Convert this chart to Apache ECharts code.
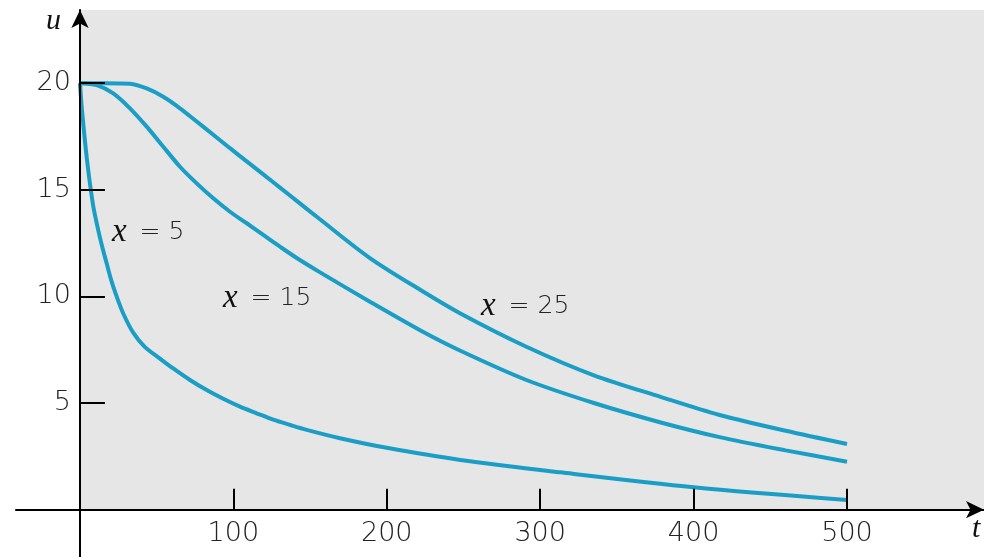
<!DOCTYPE html>
<html>
<head>
<meta charset="utf-8">
<script src="https://cdn.jsdelivr.net/npm/echarts@6/dist/echarts.min.js"></script>
<style>
  html, body {margin: 0; padding: 0; background: #fff;}
  #main {width: 984px; height: 557px;}
</style>
</head>
<body>
<div id="main"></div>
<script>
// t (time) and u for each curve
const t5 = [0, 1.3, 4.6, 8.5, 11.9, 14.5, 17.4, 20.2, 23.9, 28.2, 34.7, 42.4, 52.2, 60.8, 71.7, 82.6, 93.4, 104.3, 115.2, 126, 137, 147.8, 169.5, 200, 248, 313, 400, 500];
const u5 = [20, 18.74, 16.39, 14.3, 13.11, 12.33, 11.55, 10.8, 10.0, 9.2, 8.3, 7.62, 7.08, 6.62, 6.08, 5.61, 5.2, 4.83, 4.52, 4.22, 3.97, 3.74, 3.35, 2.9, 2.33, 1.75, 1.05, 0.45];

const t15 = [0, 10.9, 21.7, 32.6, 43.5, 54.3, 65.2, 76.1, 86.9, 97.8, 108.7, 119.5, 130.4, 141.3, 156, 189, 222, 248, 291, 335, 378, 417, 460, 500];
const u15 = [20, 19.91, 19.52, 18.82, 17.96, 17.02, 16.08, 15.3, 14.6, 13.97, 13.43, 12.88, 12.33, 11.8, 11.15, 9.75, 8.4, 7.45, 6.08, 5.0, 4.1, 3.4, 2.78, 2.25];

const t25 = [0, 16, 32.6, 43.5, 54.3, 65.2, 76.1, 86.9, 97.8, 108.7, 119.5, 130.4, 141.3, 156, 189, 222, 248, 291, 335, 378, 417, 460, 500];
const u25 = [20, 20, 19.97, 19.75, 19.36, 18.82, 18.2, 17.58, 16.95, 16.33, 15.72, 15.1, 14.48, 13.64, 11.8, 10.3, 9.2, 7.64, 6.3, 5.3, 4.44, 3.7, 3.08];

const xTicks = [100, 200, 300, 400, 500];
const yTicks = [5, 10, 15, 20];
const labels = ['5', '15', '25'];

const blue = '#1a9ec6';
const xMin = -41.7, xMax = 589.3;
const yMin = -2.22, yMax = 23.43;

// grid box
const W = 984, H = 557, gl = 16, gt = 10;
const xScale = (W - gl) / (xMax - xMin);
const yScale = (H - gt) / (yMax - yMin);

const numFont = 'DejaVu Sans';

function pairs(ts, us) {
  return ts.map((t, i) => [t, us[i]]);
}

function curve(name, ts, us) {
  return {
    name: name,
    type: 'line',
    data: pairs(ts, us),
    smooth: 0.3,
    showSymbol: false,
    lineStyle: {color: blue, width: 4},
    z: 2
  };
}

function lbl(n) {
  return '{i|x}{n| = ' + n + '}';
}

const myChart = echarts.init(document.getElementById('main'));
myChart.setOption({
  animation: false,
  grid: {left: gl, right: 0, top: gt, bottom: 0, containLabel: false, outerBoundsMode: 'none'},
  xAxis: {
    type: 'value', min: xMin, max: xMax, z: 10,
    offset: yMin * yScale,
    splitLine: {show: false},
    axisLine: {onZero: false, lineStyle: {color: '#000', width: 2}, symbol: ['none', 'arrow'], symbolSize: [13, 18]},
    axisTick: {inside: true, length: 21, customValues: xTicks, lineStyle: {color: '#000', width: 2}},
    axisLabel: {customValues: xTicks, margin: 11, color: '#222', fontSize: 27, fontFamily: numFont, fontWeight: 200}
  },
  yAxis: {
    type: 'value', min: yMin, max: yMax, z: 10,
    offset: xMin * xScale,
    splitLine: {show: false},
    axisLine: {onZero: false, lineStyle: {color: '#000', width: 2}, symbol: ['none', 'arrow'], symbolSize: [13, 18]},
    axisTick: {inside: true, length: 25, customValues: yTicks, lineStyle: {color: '#000', width: 2}},
    axisLabel: {customValues: yTicks, margin: 9, color: '#222', fontSize: 27, fontFamily: numFont, fontWeight: 200}
  },
  series: [
    {
      type: 'line', data: [], z: 0, silent: true,
      markArea: {
        silent: true,
        itemStyle: {color: '#e6e6e6'},
        data: [[{coord: [0, 0]}, {coord: [xMax, yMax]}]]
      }
    },
    curve('x = 5', t5, u5),
    curve('x = 15', t15, u15),
    curve('x = 25', t25, u25)
  ],
  graphic: [
    {type: 'text', z: 100, left: 46, top: 6, style: {text: 'u', font: 'italic 30px "Liberation Serif"', fill: '#111'}},
    {type: 'text', z: 100, left: 972, top: 514, style: {text: 't', font: 'italic 30px "Liberation Serif"', fill: '#111'}},
    ...[[112, 232], [223, 298], [481, 306]].map((p, i) => ({
      type: 'text', z: 100, x: p[0], y: p[1],
      style: {
        text: lbl(labels[i]), verticalAlign: 'middle',
        rich: {
          i: {fontStyle: 'italic', fontSize: 33, fontFamily: 'Liberation Serif', fill: '#111', padding: [0, 5, 0, 0]},
          n: {fontSize: 25, fontFamily: numFont, fontWeight: 200, fill: '#222'}
        }
      }
    }))
  ]
});
</script>
</body>
</html>
